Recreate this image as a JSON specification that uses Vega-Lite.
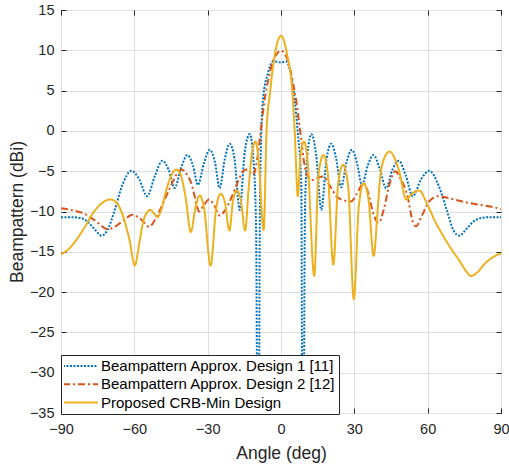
{
  "$schema": "https://vega.github.io/schema/vega-lite/v6.json",
  "autosize": "none",
  "width": 440,
  "height": 403,
  "padding": {"left": 61, "top": 10, "right": 8, "bottom": 55},
  "background": "white",
  "config": {
    "view": {"stroke": "#262626", "strokeWidth": 1},
    "font": "Liberation Sans",
    "axis": {
      "labelFont": "Liberation Sans",
      "titleFont": "Liberation Sans",
      "labelColor": "#262626",
      "titleColor": "#262626",
      "labelFontSize": 14.5,
      "titleFontSize": 17.5,
      "titleFontWeight": "normal",
      "tickColor": "#262626",
      "tickSize": -5,
      "tickWidth": 1,
      "domain": false,
      "gridColor": "#dfdfdf",
      "gridWidth": 1,
      "gridOpacity": 1
    }
  },
  "data": {"values": [
    {"s":"1","a":-90,"b":-10.7},{"s":"1","a":-86,"b":-10.7},{"s":"1","a":-82,"b":-10.8},{"s":"1","a":-79,"b":-11.3},{"s":"1","a":-76,"b":-12.3},{"s":"1","a":-73.4,"b":-13.0},{"s":"1","a":-71,"b":-12.3},{"s":"1","a":-68,"b":-9.8},{"s":"1","a":-65,"b":-6.8},{"s":"1","a":-61.2,"b":-4.95},{"s":"1","a":-58,"b":-6.0},{"s":"1","a":-54.8,"b":-8.1},{"s":"1","a":-51.5,"b":-5.5},{"s":"1","a":-48.5,"b":-3.7},{"s":"1","a":-46,"b":-4.8},{"s":"1","a":-43.5,"b":-7.1},{"s":"1","a":-41,"b":-4.7},{"s":"1","a":-38.3,"b":-3.0},{"s":"1","a":-36,"b":-4.3},{"s":"1","a":-34,"b":-6.7},{"s":"1","a":-31.5,"b":-4.0},{"s":"1","a":-29.2,"b":-2.35},{"s":"1","a":-27,"b":-3.9},{"s":"1","a":-25.1,"b":-7.1},{"s":"1","a":-23,"b":-3.5},{"s":"1","a":-21,"b":-1.6},{"s":"1","a":-19,"b":-3.5},{"s":"1","a":-16.9,"b":-9.8},{"s":"1","a":-14.8,"b":-2.5},{"s":"1","a":-12.8,"b":-0.4},{"s":"1","a":-11.3,"b":-3.5},{"s":"1","a":-10.2,"b":-12},{"s":"1","a":-9.3,"b":-60},{"s":"1","a":-8.6,"b":-8},{"s":"1","a":-7.4,"b":3.85},{"s":"1","a":-5.3,"b":7.2},{"s":"1","a":-3.3,"b":8.6},{"s":"1","a":-2.5,"b":8.6},{"s":"1","a":0,"b":8.5},{"s":"1","a":2.2,"b":8.6},{"s":"1","a":4.2,"b":6.7},{"s":"1","a":5.6,"b":3.85},{"s":"1","a":6.9,"b":-0.3},{"s":"1","a":8.3,"b":-6.5},{"s":"1","a":8.95,"b":-60},{"s":"1","a":9.8,"b":-10},{"s":"1","a":10.8,"b":-3},{"s":"1","a":12.4,"b":-0.4},{"s":"1","a":14.4,"b":-3},{"s":"1","a":16.5,"b":-9.8},{"s":"1","a":18.6,"b":-3.5},{"s":"1","a":20.6,"b":-1.6},{"s":"1","a":22.6,"b":-3.5},{"s":"1","a":24.6,"b":-7.0},{"s":"1","a":26.8,"b":-3.9},{"s":"1","a":29.0,"b":-2.35},{"s":"1","a":31.1,"b":-4.0},{"s":"1","a":33.1,"b":-6.7},{"s":"1","a":35.5,"b":-4.3},{"s":"1","a":37.8,"b":-3.0},{"s":"1","a":40.4,"b":-4.7},{"s":"1","a":43.0,"b":-7.1},{"s":"1","a":45.6,"b":-4.8},{"s":"1","a":48.2,"b":-3.7},{"s":"1","a":51,"b":-5.5},{"s":"1","a":53.9,"b":-8.1},{"s":"1","a":57.3,"b":-6.0},{"s":"1","a":60.7,"b":-4.95},{"s":"1","a":64.5,"b":-6.8},{"s":"1","a":67.8,"b":-9.8},{"s":"1","a":70.5,"b":-12.3},{"s":"1","a":73,"b":-13.0},{"s":"1","a":75.5,"b":-12.3},{"s":"1","a":78.5,"b":-11.3},{"s":"1","a":82,"b":-10.8},{"s":"1","a":86,"b":-10.7},{"s":"1","a":90,"b":-10.7},

    {"s":"2","a":-90,"b":-9.6},{"s":"2","a":-86,"b":-9.8},{"s":"2","a":-82,"b":-10.1},{"s":"2","a":-78,"b":-10.7},{"s":"2","a":-74.5,"b":-11.5},{"s":"2","a":-71,"b":-12.2},{"s":"2","a":-67.5,"b":-11.8},{"s":"2","a":-64,"b":-11.0},{"s":"2","a":-60.8,"b":-10.4},{"s":"2","a":-57.5,"b":-10.9},{"s":"2","a":-54,"b":-11.9},{"s":"2","a":-51.5,"b":-11.0},{"s":"2","a":-49.5,"b":-9.8},{"s":"2","a":-45.5,"b":-7.1},{"s":"2","a":-42.5,"b":-5.3},{"s":"2","a":-40.7,"b":-4.8},{"s":"2","a":-38.5,"b":-5.4},{"s":"2","a":-36.7,"b":-6.5},{"s":"2","a":-35,"b":-8.5},{"s":"2","a":-33.6,"b":-10.0},{"s":"2","a":-31.5,"b":-9.2},{"s":"2","a":-29.5,"b":-8.5},{"s":"2","a":-27.2,"b":-9.3},{"s":"2","a":-25.1,"b":-10.5},{"s":"2","a":-23,"b":-9.9},{"s":"2","a":-21,"b":-8.75},{"s":"2","a":-17.6,"b":-6.3},{"s":"2","a":-15.5,"b":-5.0},{"s":"2","a":-14.2,"b":-4.8},{"s":"2","a":-12.8,"b":-5.1},{"s":"2","a":-11.5,"b":-5.45},{"s":"2","a":-10.3,"b":-4.5},{"s":"2","a":-9.4,"b":-2.8},{"s":"2","a":-8.7,"b":-1.1},{"s":"2","a":-7.7,"b":1.5},{"s":"2","a":-6.7,"b":3.85},{"s":"2","a":-5,"b":6.6},{"s":"2","a":-3.3,"b":8.6},{"s":"2","a":-1.6,"b":9.6},{"s":"2","a":0,"b":9.96},{"s":"2","a":1.7,"b":9.5},{"s":"2","a":3.5,"b":8.0},{"s":"2","a":5,"b":5.8},{"s":"2","a":6.2,"b":3.85},{"s":"2","a":7.3,"b":1.3},{"s":"2","a":8.3,"b":-1.1},{"s":"2","a":9.3,"b":-3.6},{"s":"2","a":10.3,"b":-5.2},{"s":"2","a":12.5,"b":-6.1},{"s":"2","a":14.5,"b":-5.9},{"s":"2","a":17.1,"b":-5.65},{"s":"2","a":20,"b":-6.8},{"s":"2","a":22.6,"b":-8.1},{"s":"2","a":25.5,"b":-8.6},{"s":"2","a":28.7,"b":-8.75},{"s":"2","a":31,"b":-7.8},{"s":"2","a":33.8,"b":-6.5},{"s":"2","a":35.8,"b":-7.8},{"s":"2","a":37.8,"b":-10.3},{"s":"2","a":40,"b":-11.4},{"s":"2","a":42,"b":-9.8},{"s":"2","a":44.5,"b":-6.5},{"s":"2","a":46.8,"b":-5.0},{"s":"2","a":49,"b":-6.0},{"s":"2","a":51.9,"b":-8.3},{"s":"2","a":53.5,"b":-10.8},{"s":"2","a":55.2,"b":-11.85},{"s":"2","a":57.5,"b":-10.6},{"s":"2","a":60.5,"b":-8.8},{"s":"2","a":64.3,"b":-8.1},{"s":"2","a":68,"b":-8.3},{"s":"2","a":72,"b":-8.6},{"s":"2","a":77,"b":-8.95},{"s":"2","a":82,"b":-9.2},{"s":"2","a":86,"b":-9.4},{"s":"2","a":90,"b":-9.7},

    {"s":"3","a":-90,"b":-15.3},{"s":"3","a":-87,"b":-14.7},{"s":"3","a":-83.7,"b":-13.5},{"s":"3","a":-80,"b":-11.8},{"s":"3","a":-76.9,"b":-10.2},{"s":"3","a":-73,"b":-8.9},{"s":"3","a":-69.8,"b":-8.5},{"s":"3","a":-67,"b":-9.0},{"s":"3","a":-64.6,"b":-10.6},{"s":"3","a":-62,"b":-13.5},{"s":"3","a":-59.8,"b":-16.7},{"s":"3","a":-58,"b":-14},{"s":"3","a":-56.4,"b":-11.3},{"s":"3","a":-54.5,"b":-10.0},{"s":"3","a":-53.4,"b":-9.8},{"s":"3","a":-51.8,"b":-10.3},{"s":"3","a":-50.5,"b":-10.7},{"s":"3","a":-49,"b":-9.8},{"s":"3","a":-46.9,"b":-7.3},{"s":"3","a":-44.5,"b":-5.3},{"s":"3","a":-42.8,"b":-4.8},{"s":"3","a":-41,"b":-5.5},{"s":"3","a":-39,"b":-8.3},{"s":"3","a":-36.9,"b":-12.55},{"s":"3","a":-35,"b":-9.5},{"s":"3","a":-33.3,"b":-8.0},{"s":"3","a":-31.5,"b":-9.5},{"s":"3","a":-28.8,"b":-16.7},{"s":"3","a":-26.5,"b":-9.5},{"s":"3","a":-24.7,"b":-7.8},{"s":"3","a":-23,"b":-8.8},{"s":"3","a":-21.1,"b":-12.35},{"s":"3","a":-19.6,"b":-8.6},{"s":"3","a":-18.0,"b":-7.4},{"s":"3","a":-16.3,"b":-8.9},{"s":"3","a":-14.7,"b":-12.35},{"s":"3","a":-13.2,"b":-7},{"s":"3","a":-11.8,"b":-2.6},{"s":"3","a":-10.4,"b":-1.3},{"s":"3","a":-9.2,"b":-3.5},{"s":"3","a":-7.1,"b":-12.3},{"s":"3","a":-5.9,"b":0},{"s":"3","a":-4.4,"b":5},{"s":"3","a":-2.5,"b":9.5},{"s":"3","a":0,"b":11.8},{"s":"3","a":2.5,"b":9.5},{"s":"3","a":4.6,"b":5},{"s":"3","a":5.6,"b":0},{"s":"3","a":6.9,"b":-8.1},{"s":"3","a":8,"b":-3},{"s":"3","a":9.4,"b":-1.3},{"s":"3","a":10.8,"b":-3.5},{"s":"3","a":13.6,"b":-18.0},{"s":"3","a":15.3,"b":-5.5},{"s":"3","a":17.4,"b":-3.0},{"s":"3","a":19.2,"b":-5.5},{"s":"3","a":21.4,"b":-16.6},{"s":"3","a":23.4,"b":-6.5},{"s":"3","a":25.4,"b":-4.2},{"s":"3","a":27.5,"b":-7},{"s":"3","a":29.8,"b":-20.9},{"s":"3","a":31.8,"b":-9.5},{"s":"3","a":33.8,"b":-6.5},{"s":"3","a":35.8,"b":-8.5},{"s":"3","a":37.9,"b":-15.5},{"s":"3","a":39.5,"b":-10},{"s":"3","a":40.5,"b":-6},{"s":"3","a":42,"b":-3.6},{"s":"3","a":44.4,"b":-2.55},{"s":"3","a":46.5,"b":-3.4},{"s":"3","a":48.5,"b":-5.2},{"s":"3","a":51.2,"b":-8.5},{"s":"3","a":53.5,"b":-7.8},{"s":"3","a":56.5,"b":-7.4},{"s":"3","a":60,"b":-9.2},{"s":"3","a":63,"b":-11.2},{"s":"3","a":66.5,"b":-13.1},{"s":"3","a":70,"b":-14.8},{"s":"3","a":73,"b":-16.1},{"s":"3","a":75.5,"b":-17.3},{"s":"3","a":77.8,"b":-18.0},{"s":"3","a":80.5,"b":-17.5},{"s":"3","a":83,"b":-16.6},{"s":"3","a":86,"b":-15.8},{"s":"3","a":90,"b":-15.2}
  ]},
  "layer": [
    {
      "mark": {"type": "line", "interpolate": "monotone", "clip": true, "strokeCap": "butt", "strokeJoin": "round"},
      "encoding": {
        "x": {"field": "a", "type": "quantitative",
          "scale": {"domain": [-90, 90], "nice": false, "zero": false},
          "axis": {"values": [-90, -60, -30, 0, 30, 60, 90], "title": "Angle (deg)", "labelPadding": 14, "titlePadding": 9, "labelExpr": "replace(datum.label, '-', '\u2212')", "labelFlush": false, "labelOverlap": false}},
        "y": {"field": "b", "type": "quantitative",
          "scale": {"domain": [-35, 15], "nice": false, "zero": false},
          "axis": {"values": [-35, -30, -25, -20, -15, -10, -5, 0, 5, 10, 15], "title": "Beampattern (dBi)", "labelPadding": 12, "titlePadding": 3, "labelExpr": "replace(datum.label, '-', '\u2212')", "labelFlush": false, "labelOverlap": false}},
        "color": {"field": "s", "type": "nominal",
          "scale": {"domain": ["1", "2", "3"], "range": ["#0072BD", "#D95319", "#EDB120"]},
          "legend": {"orient": "none", "legendX": 0, "legendY": 345, "direction": "vertical", "title": null,
            "padding": 3, "strokeColor": "#262626", "fillColor": "white", "cornerRadius": 0,
            "symbolType": "stroke", "symbolSize": 1225, "symbolStrokeWidth": 2, "clipHeight": 16, "rowPadding": 2.3,
            "labelFont": "Liberation Sans", "labelFontSize": 15, "labelColor": "#000000", "labelOffset": 2, "symbolOffset": -2, "labelLimit": 400,
            "labelExpr": "datum.label == '1' ? 'Beampattern Approx. Design 1 [11]' : datum.label == '2' ? 'Beampattern Approx. Design 2 [12]' : 'Proposed CRB-Min Design'"}},
        "strokeDash": {"field": "s", "type": "nominal",
          "scale": {"domain": ["1", "2", "3"], "range": [[2, 1.5], [7, 3, 2, 3], [1, 0]]},
          "legend": {"orient": "none", "legendX": 0, "legendY": 345, "direction": "vertical", "title": null,
            "padding": 3, "strokeColor": "#262626", "fillColor": "white", "cornerRadius": 0,
            "symbolType": "stroke", "symbolSize": 1225, "symbolStrokeWidth": 2, "clipHeight": 16, "rowPadding": 2.3,
            "labelFont": "Liberation Sans", "labelFontSize": 15, "labelColor": "#000000", "labelOffset": 2, "symbolOffset": -2, "labelLimit": 400,
            "labelExpr": "datum.label == '1' ? 'Beampattern Approx. Design 1 [11]' : datum.label == '2' ? 'Beampattern Approx. Design 2 [12]' : 'Proposed CRB-Min Design'"}},
        "strokeWidth": {"field": "s", "type": "nominal",
          "scale": {"domain": ["1", "2", "3"], "range": [2, 2, 2.5]}, "legend": null}
      }
    },
    {
      "mark": {"type": "line", "opacity": 0},
      "encoding": {
        "x": {"field": "a", "type": "quantitative",
          "axis": {"orient": "top", "values": [-90, -60, -30, 0, 30, 60, 90], "labels": false, "grid": false, "title": null}},
        "y": {"field": "b", "type": "quantitative",
          "axis": {"orient": "right", "values": [-35, -30, -25, -20, -15, -10, -5, 0, 5, 10, 15], "labels": false, "grid": false, "title": null}},
        "detail": {"field": "s"}
      }
    }
  ],
  "resolve": {"axis": {"x": "independent", "y": "independent"}}
}
